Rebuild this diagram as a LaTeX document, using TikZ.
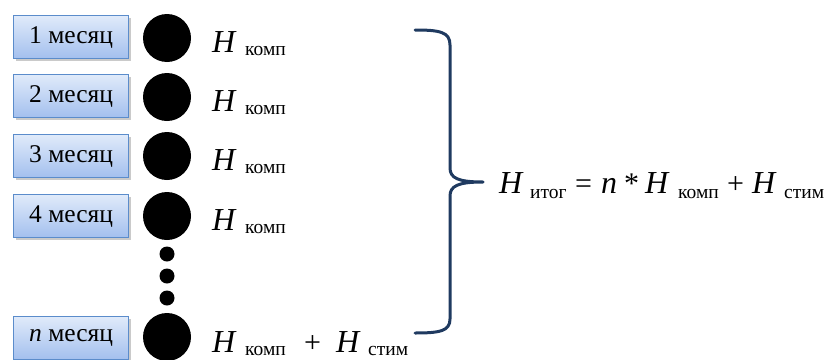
\documentclass[tikz,border=0pt]{standalone}
\usepackage{fontspec}
\setmainfont{LiberationSerif}[Extension=.ttf, UprightFont=*-Regular, ItalicFont=*-Italic, BoldFont=*-Bold, BoldItalicFont=*-BoldItalic]
\usetikzlibrary{shadows}
\definecolor{boxedge}{HTML}{5B8CCB}
\definecolor{boxtop}{HTML}{E0EAFA}
\definecolor{boxbot}{HTML}{A3BFEE}
\definecolor{bracecol}{HTML}{1F3A60}
\tikzset{
  monthbox/.style={draw=boxedge, line width=1.2pt, top color=boxtop, bottom color=boxbot,
    minimum width=115pt, minimum height=43pt, inner sep=0pt, anchor=north west,
    font=\fontsize{25.5}{25.5}\selectfont,
    drop shadow={shadow xshift=2pt, shadow yshift=-2pt, opacity=0.35, fill=black!60}},
  bigdot/.style={circle, fill=black, minimum size=48pt, inner sep=0pt},
  smalldot/.style={circle, fill=black, minimum size=15pt, inner sep=0pt},
  hbig/.style={anchor=base west, inner sep=0pt, font=\fontsize{32}{32}\selectfont\itshape},
  hsub/.style={anchor=base west, inner sep=0pt, font=\fontsize{19.5}{19.5}\selectfont},
  op/.style={anchor=base west, inner sep=0pt, font=\fontsize{30}{30}\selectfont},
  bracepath/.style={draw=bracecol, line width=3pt, line cap=round, line join=round}
}
\begin{document}
\begin{tikzpicture}[x=1pt,y=-1pt]
\useasboundingbox (0,0) rectangle (826,359);
\node[monthbox] (b1) at (13,15) {1 месяц};
\node[monthbox] (b2) at (13,74) {2 месяц};
\node[monthbox] (b3) at (13,134) {3 месяц};
\node[monthbox] (b4) at (13,194) {4 месяц};
\node[monthbox] (bn) at (13,316) {\textit{n} месяц};

\node[bigdot] (c1) at (167,38) {};
\node[bigdot] (c2) at (167,97) {};
\node[bigdot] (c3) at (167,156) {};
\node[bigdot] (c4) at (167,216) {};
\node[smalldot] (d1) at (167,254) {};
\node[smalldot] (d2) at (167,276) {};
\node[smalldot] (d3) at (167,298) {};
\node[bigdot] (cn) at (167,337) {};

\foreach \i/\y in {1/52,2/111,3/170,4/230}{
  \node[hbig] (h\i) at (212,\y) {H};
  \node[hsub] (s\i) at (245,\y+3) {комп};
}
\node[hbig] (hn) at (212,352) {H};
\node[hsub] (sn) at (245,355) {комп};
\node[op] (pn) at (304,352) {+};
\node[hbig] (hn2) at (336,352) {H};
\node[hsub] (sn2) at (368,355) {стим};

\coordinate (bt) at (415,30);
\coordinate (bm) at (483,182);
\coordinate (bb) at (415,333);
\draw[bracepath] (bt) .. controls (440,30) and (450,32) .. (450,45)
  -- (450,168) .. controls (450,178) and (458,182) .. (bm)
  .. controls (458,182) and (450,186) .. (450,196)
  -- (450,319) .. controls (450,331) and (440,333) .. (bb);

\node[hbig] (f1) at (499,193) {H};
\node[hsub] (f2) at (530,198) {итог};
\node[op] (f3) at (575,193) {=};
\node[hbig] (f4) at (601,193) {n};
\node[op] (f5) at (624,193) {*};
\node[hbig] (f6) at (645,193) {H};
\node[hsub] (f7) at (678,198) {комп};
\node[op] (f8) at (727,193) {+};
\node[hbig] (f9) at (752,193) {H};
\node[hsub] (f10) at (784,198) {стим};
\end{tikzpicture}
\end{document}
